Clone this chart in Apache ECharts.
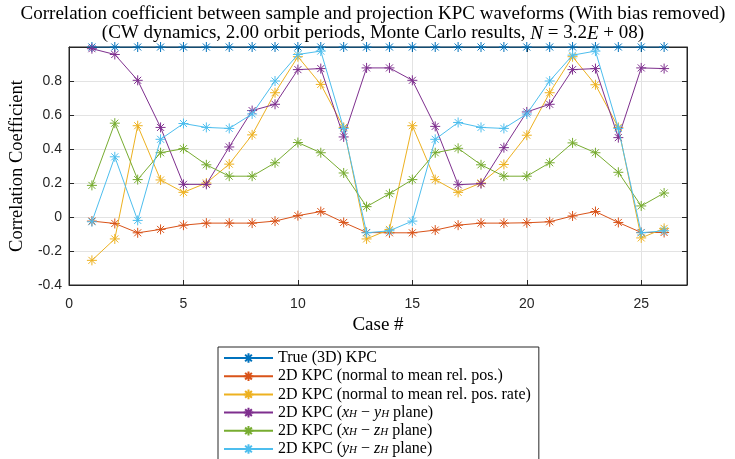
<!DOCTYPE html>
<html>
<head>
<meta charset="utf-8">
<script src="https://cdn.jsdelivr.net/npm/echarts@6/dist/echarts.min.js"></script>
<style>
  html, body { margin: 0; padding: 0; background: #fff; }
  #main { width: 735px; height: 459px; }
</style>
</head>
<body>
<div id="main"></div>
<script>
// case numbers
const cases = [1, 2, 3, 4, 5, 6, 7, 8, 9, 10, 11, 12, 13, 14, 15, 16, 17, 18, 19, 20, 21, 22, 23, 24, 25, 26];

// correlation coefficients
const trueKPC = [1, 1, 1, 1, 1, 1, 1, 1, 1, 1, 1, 1, 1, 1, 1, 1, 1, 1, 1, 1, 1, 1, 1, 1, 1, 1];
const normalPos = [-0.024, -0.038, -0.093, -0.073, -0.048, -0.036, -0.036, -0.036, -0.024, 0.008, 0.032, -0.032,
  -0.091, -0.093, -0.093, -0.077, -0.048, -0.036, -0.036, -0.034, -0.028, 0.006, 0.032, -0.032, -0.091, -0.091];
const normalRate = [-0.255, -0.129, 0.537, 0.218, 0.145, 0.2, 0.311, 0.483, 0.731, 0.943, 0.78, 0.527,
  -0.129, -0.073, 0.537, 0.22, 0.145, 0.2, 0.309, 0.481, 0.731, 0.943, 0.778, 0.527, -0.123, -0.067];
const xyPlane = [0.99, 0.956, 0.804, 0.527, 0.192, 0.192, 0.412, 0.626, 0.663, 0.867, 0.873, 0.471,
  0.877, 0.877, 0.804, 0.533, 0.19, 0.196, 0.408, 0.618, 0.663, 0.867, 0.873, 0.467, 0.877, 0.873];
const xzPlane = [0.186, 0.552, 0.22, 0.378, 0.402, 0.307, 0.24, 0.24, 0.319, 0.438, 0.378, 0.259,
  0.061, 0.137, 0.22, 0.378, 0.404, 0.307, 0.24, 0.24, 0.319, 0.436, 0.378, 0.263, 0.065, 0.141];
const yzPlane = [-0.028, 0.354, -0.02, 0.457, 0.55, 0.527, 0.521, 0.606, 0.8, 0.956, 0.976, 0.521,
  -0.093, -0.081, -0.024, 0.457, 0.556, 0.527, 0.521, 0.606, 0.8, 0.952, 0.976, 0.521, -0.093, -0.081];

const seriesNames = [
  'True (3D) KPC',
  '2D KPC (normal to mean rel. pos.)',
  '2D KPC (normal to mean rel. pos. rate)',
  '2D KPC ({i|x}{s|H} − {i|y}{s|H} plane)',
  '2D KPC ({i|x}{s|H} − {i|z}{s|H} plane)',
  '2D KPC ({i|y}{s|H} − {i|z}{s|H} plane)'
];
const seriesValues = [trueKPC, normalPos, normalRate, xyPlane, xzPlane, yzPlane];
const colors = ['#0072BD', '#D95319', '#EDB120', '#7E2F8E', '#77AC30', '#4DBEEE'];

const serif = 'Liberation Serif';
const sans = 'Liberation Sans';
const axisColor = '#262626';
// asterisk marker, a plus laid over an x
const star = 'path://M0,5L10,5M5,0L5,10M1.5,1.5L8.5,8.5M1.5,8.5L8.5,1.5';

const chart = echarts.init(document.getElementById('main'));

const series = seriesValues.map((vals, k) => ({
  name: seriesNames[k],
  type: 'line',
  data: cases.map((c, i) => [c, vals[i]]),
  symbol: star,
  symbolSize: 10,
  showAllSymbol: true,
  lineStyle: { color: colors[k], width: 1 },
  itemStyle: { color: colors[k], borderColor: colors[k], borderWidth: 1 },
  emphasis: { disabled: true },
  animation: false,
  z: 3 + k
}));

const mathRich = {
  i: { fontFamily: serif, fontStyle: 'italic', fontSize: 16, color: '#000', lineHeight: 14 },
  s: { fontFamily: serif, fontStyle: 'italic', fontSize: 11, color: '#000', lineHeight: 5, verticalAlign: 'bottom' }
};

const sideAxis = (pos) => ({
  type: 'value', position: pos,
  axisLine: { show: true, onZero: false, lineStyle: { color: axisColor } },
  axisTick: { show: true, inside: true, length: 5, lineStyle: { color: axisColor } },
  axisLabel: { show: false },
  splitLine: { show: false }
});

const option = {
  animation: false,
  grid: {
    left: 69, right: 48, top: 47, bottom: 174,
    show: true, borderColor: axisColor, borderWidth: 1, backgroundColor: '#fff'
  },
  graphic: [
    {
      type: 'text', x: 373, y: 5,
      style: {
        text: 'Correlation coefficient between sample and projection KPC waveforms (With bias removed)',
        font: '19px "Liberation Serif"', fill: '#000', align: 'center'
      }
    },
    {
      type: 'text', x: 373, y: 24,
      style: {
        text: '(CW dynamics, 2.00 orbit periods, Monte Carlo results, {i|N} = 3.2{i|E} + 08)',
        font: '19px "Liberation Serif"', fill: '#000', align: 'center',
        rich: { i: { fontFamily: serif, fontStyle: 'italic', fontSize: 19, fill: '#000' } }
      }
    }
  ],
  xAxis: [
    {
      type: 'value', min: 0, max: 27, interval: 5,
      name: 'Case #', nameLocation: 'middle', nameGap: 30,
      nameTextStyle: { fontFamily: serif, fontSize: 19, color: '#000' },
      axisLine: { show: true, onZero: false, lineStyle: { color: axisColor } },
      axisTick: { show: true, inside: true, length: 5, lineStyle: { color: axisColor } },
      axisLabel: {
        margin: 12, fontFamily: sans, fontSize: 14, color: axisColor,
        formatter: v => (v % 5 === 0 ? String(v) : '')
      },
      splitLine: { show: true, lineStyle: { color: '#e3e3e3', width: 1 } }
    },
    Object.assign(sideAxis('top'), { min: 0, max: 27, interval: 5 })
  ],
  yAxis: [
    {
      type: 'value', min: -0.4, max: 1, interval: 0.2,
      name: 'Correlation Coefficient', nameLocation: 'middle', nameGap: 41,
      nameTextStyle: { fontFamily: serif, fontSize: 18.5, color: '#000' },
      axisLine: { show: true, onZero: false, lineStyle: { color: axisColor } },
      axisTick: { show: true, inside: true, length: 5, lineStyle: { color: axisColor } },
      axisLabel: {
        margin: 7, fontFamily: sans, fontSize: 14, color: axisColor,
        formatter: v => (Math.abs(v - 1) < 1e-9 ? '' : String(Math.round(v * 10) / 10))
      },
      splitLine: { show: true, lineStyle: { color: '#e3e3e3', width: 1 } }
    },
    Object.assign(sideAxis('right'), { min: -0.4, max: 1, interval: 0.2 })
  ],
  legend: {
    orient: 'vertical',
    left: 218, top: 347, height: 140,
    padding: [3, 8, 3, 5],
    itemWidth: 49, itemHeight: 12, itemGap: 2.2,
    backgroundColor: '#fff',
    borderColor: axisColor, borderWidth: 1, borderRadius: 0,
    textStyle: { fontFamily: serif, fontSize: 16, color: '#000', lineHeight: 14, rich: mathRich },
    data: seriesNames
  },
  series: series
};

chart.setOption(option);
</script>
</body>
</html>
